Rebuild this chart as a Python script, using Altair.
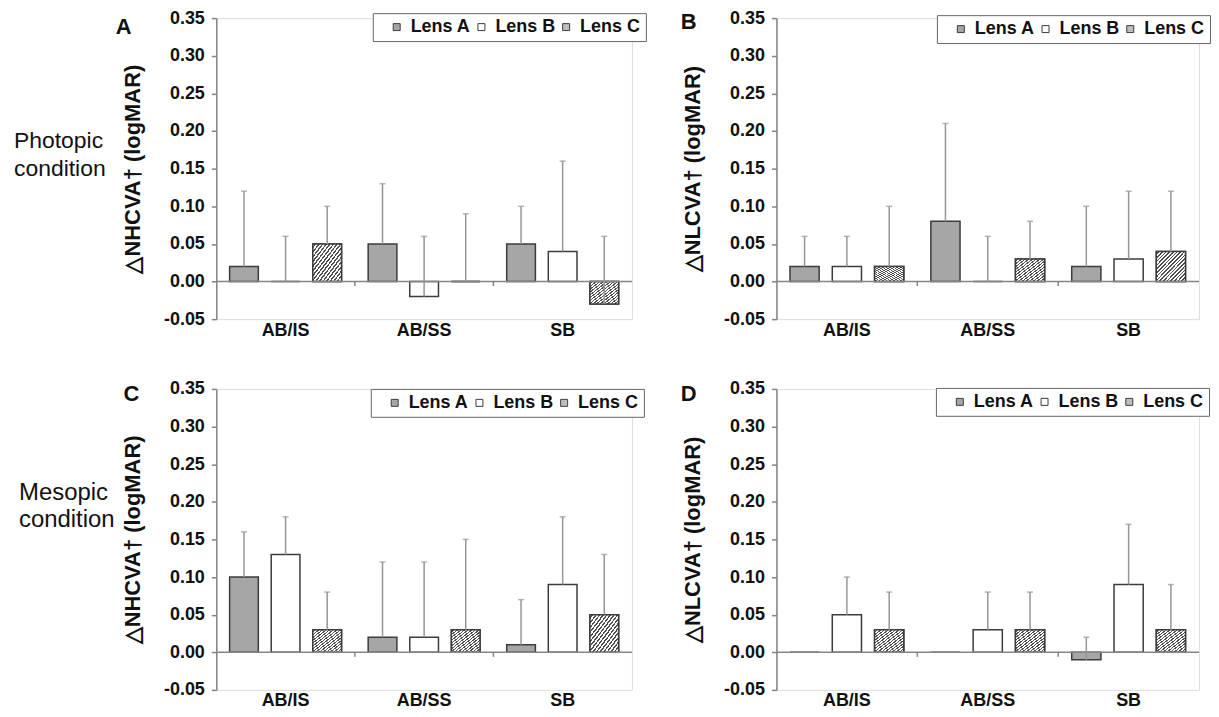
import altair as alt
import pandas as pd

FONT = "Liberation Sans"

groups = ["AB/IS", "AB/SS", "SB"]
lenses = ["Lens A", "Lens B", "Lens C"]

# Panel A: photopic NHCVA  (mean, upper end of error bar)
a_mean = {"Lens A": [0.02, 0.05, 0.05], "Lens B": [0.00, -0.02, 0.04], "Lens C": [0.05, 0.00, -0.03]}
a_upper = {"Lens A": [0.12, 0.13, 0.10], "Lens B": [0.06, 0.06, 0.16], "Lens C": [0.10, 0.09, 0.06]}
# Panel B: photopic NLCVA
b_mean = {"Lens A": [0.02, 0.08, 0.02], "Lens B": [0.02, 0.00, 0.03], "Lens C": [0.02, 0.03, 0.04]}
b_upper = {"Lens A": [0.06, 0.21, 0.10], "Lens B": [0.06, 0.06, 0.12], "Lens C": [0.10, 0.08, 0.12]}
# Panel C: mesopic NHCVA
c_mean = {"Lens A": [0.10, 0.02, 0.01], "Lens B": [0.13, 0.02, 0.09], "Lens C": [0.03, 0.03, 0.05]}
c_upper = {"Lens A": [0.16, 0.12, 0.07], "Lens B": [0.18, 0.12, 0.18], "Lens C": [0.08, 0.15, 0.13]}
# Panel D: mesopic NLCVA
d_mean = {"Lens A": [0.00, 0.00, -0.01], "Lens B": [0.05, 0.03, 0.09], "Lens C": [0.03, 0.03, 0.03]}
d_upper = {"Lens A": [None, None, 0.02], "Lens B": [0.10, 0.08, 0.17], "Lens C": [0.08, 0.08, 0.09]}

y_ticks = [-0.05, 0.0, 0.05, 0.10, 0.15, 0.20, 0.25, 0.30, 0.35]

AXIS_GRAY = "#858585"
ERR_GRAY = "#969696"
BAR_STROKE = "#3c3c3c"
H = 302

N = 16
stops = []
for i in range(N):
    a = i / N
    b = (i + 0.55) / N
    c = (i + 1) / N
    stops += [
        alt.GradientStop(offset=a, color="#ffffff"),
        alt.GradientStop(offset=b, color="#ffffff"),
        alt.GradientStop(offset=b, color="#505050"),
        alt.GradientStop(offset=c, color="#505050"),
    ]
hatch_fill = alt.LinearGradient(gradient="linear", stops=stops, x1=0, y1=0, x2=1, y2=1)


def make_df(mean, upper):
    rows = []
    for lens in lenses:
        for gi, g in enumerate(groups):
            rows.append({"group": g, "lens": lens, "mean": mean[lens][gi], "upper": upper[lens][gi]})
    return pd.DataFrame(rows)


def panel(mean, upper, ytitle, letter, width, lx, ly, letter_xy, rowlab=None):
    df = make_df(mean, upper)
    base = alt.Chart(df)
    yaxis = alt.Axis(
        title=ytitle, values=y_ticks, grid=False,
        labelExpr="datum.value < 0 ? '-' + format(-datum.value, '.2f') : format(datum.value, '.2f')",
        labelFontSize=18, labelFontWeight="bold", labelColor="#111", labelFont=FONT,
        labelPadding=7, tickSize=5, tickColor=AXIS_GRAY, tickWidth=1.5,
        domainColor=AXIS_GRAY, domainWidth=1.5,
        titleFontSize=22, titleFontWeight="bold", titleColor="#111", titleFont=FONT,
        titlePadding=19,
    )
    xaxis = alt.Axis(
        title=None, domain=False, ticks=False, tickSize=0, labelAngle=0, grid=False,
        labelFontSize=18, labelFontWeight="bold", labelColor="#111", labelFont=FONT,
        labelPadding=2,
    )
    xs = alt.Scale(domain=groups, paddingInner=0, paddingOuter=0)
    ys = alt.Scale(domain=[-0.05, 0.35], nice=False, zero=False)
    X = alt.X("group:N", scale=xs, axis=xaxis)
    XO = alt.XOffset("lens:N", scale=alt.Scale(domain=lenses, paddingInner=0.31, paddingOuter=0.32))

    bars = base.mark_bar(stroke=BAR_STROKE, strokeWidth=1.5).encode(
        x=X, xOffset=XO,
        y=alt.Y("mean:Q", scale=ys, axis=yaxis),
        y2=alt.Y2Datum(0),
        fill=alt.Fill(
            "lens:N",
            scale=alt.Scale(domain=lenses, range=["#a6a6a6", "#ffffff", "#bdbdbd"]),
            legend=alt.Legend(
                title=" ", titleOrient="left", titleFontSize=18, titlePadding=10,
                orient="none", legendX=lx, legendY=ly, direction="horizontal",
                symbolType="square", symbolSize=49, symbolStrokeColor=BAR_STROKE,
                symbolStrokeWidth=1, labelFontSize=18, labelFontWeight="bold",
                labelFont=FONT, labelColor="#111", strokeColor="#666666",
                fillColor="#ffffff", padding=5, columnPadding=1, labelOffset=5,
            ),
        ),
    )
    hatch = base.transform_filter(alt.datum.lens == "Lens C").mark_bar(
        fill=hatch_fill, stroke=BAR_STROKE, strokeWidth=1.5
    ).encode(x=X, xOffset=XO, y=alt.Y("mean:Q", scale=ys, axis=yaxis), y2=alt.Y2Datum(0))

    zero = alt.Chart(pd.DataFrame({"z": [0]})).mark_rule(color=AXIS_GRAY, strokeWidth=1.5).encode(
        y=alt.YDatum(0, scale=ys, axis=yaxis)
    )
    gticks = alt.Chart(pd.DataFrame({"group": groups[1:]})).mark_rule(
        color=AXIS_GRAY, strokeWidth=1.5
    ).encode(
        x=alt.X("group:N", scale=xs, axis=xaxis, bandPosition=0),
        y=alt.YDatum(0, scale=ys, axis=yaxis),
        y2=alt.Y2Datum(-0.006),
    )
    err = base.transform_filter("isValid(datum.upper)").mark_rule(
        color=ERR_GRAY, strokeWidth=1.5
    ).encode(x=X, xOffset=XO, y=alt.Y("mean:Q", scale=ys, axis=yaxis), y2="upper:Q")
    cap = base.transform_filter("isValid(datum.upper)").mark_tick(
        color=ERR_GRAY, thickness=1.5, size=6
    ).encode(x=X, xOffset=XO, y=alt.Y("upper:Q", scale=ys, axis=yaxis))

    let = alt.Chart(pd.DataFrame({"t": [letter]})).mark_text(
        font=FONT, fontSize=22, fontWeight="bold", align="left", baseline="alphabetic", color="#111"
    ).encode(text="t:N", x=alt.value(letter_xy[0]), y=alt.value(letter_xy[1]))

    layers = [bars, hatch, zero, gticks, err, cap, let]
    if rowlab is not None:
        text, rx, ry, fs = rowlab
        lab = alt.Chart(pd.DataFrame({"t": [text]})).mark_text(
            font=FONT, fontSize=fs, align="left", baseline="alphabetic", color="#111",
            lineBreak="\n", lineHeight=28,
        ).encode(text="t:N", x=alt.value(rx), y=alt.value(ry))
        layers.append(lab)
    return alt.layer(*layers).properties(width=width, height=H)


pA = panel(a_mean, a_upper, "△NHCVA†   (logMAR)", "A", 417, 157, -5, (-101, 16),
           ("Photopic\ncondition", -203, 130, 23))
pB = panel(b_mean, b_upper, "△NLCVA†   (logMAR)", "B", 424, 161, -3, (-96, 11))
pC = panel(c_mean, c_upper, "△NHCVA†   (logMAR)", "C", 417, 155, 0, (-93, 12),
           ("Mesopic\ncondition", -198, 111, 24))
pD = panel(d_mean, d_upper, "△NLCVA†   (logMAR)", "D", 424, 160, -1, (-96, 12))

chart = alt.concat(
    pA, pB, pC, pD, columns=2, bounds="flush", spacing={"row": 70, "column": 145}
).resolve_scale(
    x="independent", y="independent", fill="independent", xOffset="independent"
).resolve_legend(fill="independent").properties(
    padding={"left": 5, "top": -1, "right": 0, "bottom": -1}, background="white"
).configure_view(stroke="transparent", strokeWidth=0).configure_axis(grid=False).configure(font=FONT)

chart.save("out.html", embed_options={"renderer": "svg", "actions": False})
